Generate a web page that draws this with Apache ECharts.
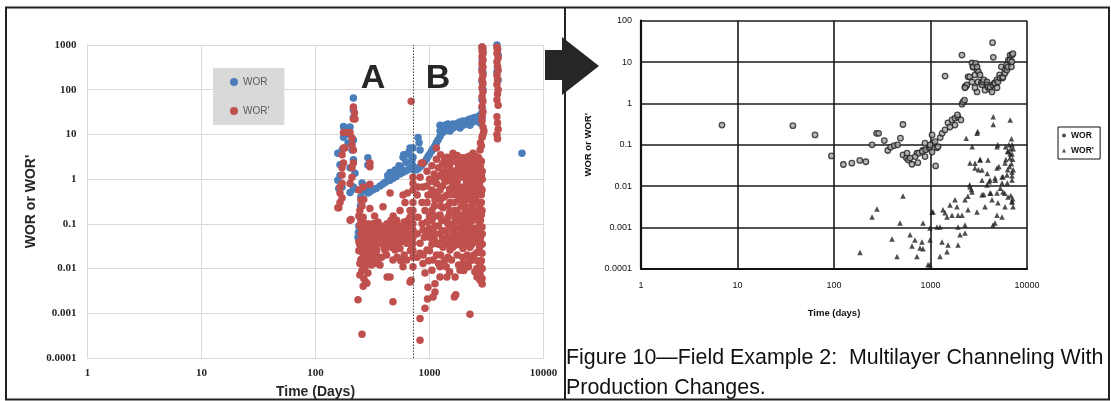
<!DOCTYPE html>
<html><head><meta charset="utf-8">
<script src="https://cdn.jsdelivr.net/npm/echarts@6/dist/echarts.min.js"></script>
<style>html,body{margin:0;padding:0;background:#fff}#c{width:1111px;height:401px}</style>
</head><body><div id="c"></div>
<script>
// ---------- tick labels ----------
const xTickLabels = ['1', '10', '100', '1000', '10000'];
const yTickLabelsLeft = ['0.0001', '0.001', '0.01', '0.1', '1', '10', '100', '1000'];
const yTickLabelsRight = ['0.0001', '0.001', '0.01', '0.1', '1', '10', '100'];

// ---------- left chart: [time (days), value] ----------
const leftWOR = [
  [181,13.9],[201,14.6],[171,4.5],[164,2.1],[171,0.67],[215,7.5],[215,2.7],[201,0.5],[222,1.35],[215,35],[215,24],[215,65],
  [157,3.8],[176,8.7],[193,6.4],[157,0.95],[215,0.67],[209,4.5],[164,1.2],[186,10],[176,15],[201,1.8],[222,0.6],[160,0.62],
  [288,3.0],[288,2.07],
  [256,0.82],[250,0.4],[248,0.25],[245,0.14],[240,0.09],[238,0.065],[236,0.05],[265,0.72],[275,0.6],[262,0.55],
  [288,0.49],[300,0.52],[320,0.58],[340,0.62],[368,0.7],[390,0.78],[410,0.85],[430,0.92],[451,0.95],[480,1.05],[510,1.15],
  [551,1.3],[580,1.4],[610,1.5],[640,1.6],[675,1.75],[700,1.9],[716,2.0],
  [430,1.2],[451,1.4],[470,1.4],[500,1.6],[540,2.0],[586,3.1],[594,3.5],[630,3.5],[660,4.0],[675,5.0],[716,5.0],[716,3.1],
  [700,2.6],[560,1.8],[620,2.4],
  [730,1.6],[760,1.6],[794,1.7],[826,1.9],[860,2.1],[900,2.4],[940,2.8],[970,3.2],[1000,3.6],[1040,4.2],[1074,4.8],[1117,5.6],
  [1150,6.5],[1188,7.5],[794,8.5],[810,6.5],[826,4.5],
  [1236,9],[1236,12],[1236,16],[1290,10.8],[1313,13],[1367,12],[1367,16],[1452,13],[1452,17],[1513,12],[1513,16],[1607,14],
  [1607,17],[1675,15],[1779,15],[1779,18],[1852,14],[1852,19],[1968,16],[1968,20],[2049,17],[2177,18],[2177,21],[2265,16],
  [2265,22],[2408,19],[2408,23],[2506,20],[2506,24],[2662,21],[2662,25],[2775,18],[2775,27],[2890,24],[2890,30],
  [2890,900],[2946,700],[2900,460],[2890,300],[2950,235],[2890,150],[2950,100],[2890,60],[2890,40],
  [3905,1000],[3950,800],[4000,600],[3950,320],[4000,165],[3905,250],
  [6470,3.8]
];
const leftWORp = [
  [215,41],[220,30],[215,22],[176,11],[201,11],[209,8.3],[209,5.8],[215,4.5],[176,5],[171,3.5],[176,2.3],[215,2.3],[209,1.8],
  [171,1.24],[209,1.1],[171,0.8],[201,0.8],[164,0.49],[171,0.38],[164,0.3],[160,0.23],[205,0.125],[157,0.23],[181,5],[193,11],
  [222,22],[171,1.8],[164,0.67],[201,0.12],[240,0.57],[250,0.34],
  [300,2.3],[300,1.9],
  [262,0.67],[300,0.77],[451,0.49],[300,0.22],[551,0.2],[586,0.44],[353,0.11],[425,0.1],[478,0.085],[515,0.073],[586,0.073],
  [630,0.1],[675,0.14],[380,0.06],[333,0.043],[368,0.037],[433,0.037],[465,0.05],[529,0.048],[630,0.05],[407,0.026],[498,0.026],
  [551,0.028],[300,0.03],[272,0.018],[310,0.0155],[345,0.013],[288,0.008],[245,0.0072],[282,0.0047],[262,0.004],[368,0.012],
  [425,0.0065],[451,0.0065],[675,0.005],[478,0.0155],[630,0.0155],[586,0.011],[262,0.14],[256,0.073],[272,0.05],[245,0.034],
  [245,0.013],[640,0.49],[610,0.3],[675,0.2],[630,0.037],[700,0.03],[391,0.24],[310,0.073],[288,0.1],[345,0.026],[451,0.073],
  [515,0.12],
  [245,0.09],[250,0.06],[256,0.045],[262,0.03],[272,0.025],[280,0.02],[256,0.12],[265,0.1],[280,0.08],[290,0.06],[300,0.05],
  [288,0.035],[260,0.022],[250,0.016],[272,0.011],[240,0.15],[245,0.2],[256,0.25],[265,0.35],[320,0.05],[330,0.03],[340,0.02],
  [310,0.025],[350,0.06],[360,0.08],[320,0.1],[330,0.15],[380,0.09],[400,0.05],[420,0.04],[440,0.06],[460,0.12],[480,0.15],
  [500,0.1],[520,0.06],[560,0.04],[600,0.06],[650,0.08],[700,0.06],[700,0.1],[680,0.025],[600,0.02],[560,0.015],[520,0.018],
  [460,0.03],[420,0.02],[380,0.018],
  [250,0.11],[262,0.085],[275,0.065],[290,0.045],[305,0.04],[320,0.035],[340,0.045],[360,0.05],[380,0.04],[400,0.03],[430,0.045],
  [460,0.06],[490,0.04],[520,0.035],[560,0.06],[600,0.045],[640,0.065],[680,0.04],[250,0.028],[265,0.04],[280,0.013],[295,0.02],
  [310,0.012],[330,0.018],[350,0.015],[240,0.025],[255,0.009],[265,0.006],[275,0.005],[240,0.04],[300,0.09],[330,0.07],[350,0.09],
  [400,0.08],[430,0.07],[560,0.09],[600,0.11],[650,0.12],
  [236,0.002],[256,0.00034],[478,0.0018],[690,0.0055],[690,55],[826,0.00076],[826,0.00025],[913,0.0013],[960,0.0021],
  [1074,0.0023],[1117,0.003],[1700,0.0026],[1650,0.0023],[2265,0.00095],[2775,0.0055],
  [716,1.1],[716,0.8],[716,0.57],[716,0.3],[716,0.2],[716,0.14],[716,0.1],[716,0.073],[716,0.05],[716,0.037],[716,0.025],
  [716,0.018],[716,0.011],
  [877,2.3],[826,1.1],[877,0.67],[970,0.44],[860,0.3],[1050,0.2],[794,0.14],[950,0.11],[1117,0.09],[877,0.073],[1000,0.05],
  [826,0.037],[1150,0.037],[950,0.026],[780,0.018],[1074,0.0155],[877,0.013],[1236,0.011],[1050,0.0092],[913,0.008],
  [1236,0.0065],[1420,0.0065],[970,0.0038],[1117,0.0046],[1675,0.0065],[1852,0.0092],[2130,0.013],[2408,0.0155],[2610,0.0065],
  [2890,0.006],[2775,0.0078],
  [1313,1.4],[1513,0.95],[1740,1.6],[1968,1.1],[2265,1.9],[2610,2.3],[2775,1.1],[1236,0.57],[1420,0.44],[1607,0.49],[1852,0.67],
  [2130,0.57],[2408,0.8],[2890,0.57],[1313,0.23],[1513,0.3],[1740,0.2],[1968,0.3],[2265,0.23],[2610,0.3],[2890,0.2],[1280,0.12],
  [1452,0.1],[1675,0.14],[1920,0.11],[2177,0.1],[2506,0.135],[2890,0.085],[1236,0.06],[1420,0.05],[1607,0.065],[1852,0.056],
  [2130,0.048],[2408,0.06],[2775,0.043],[1313,0.03],[1513,0.026],[1740,0.034],[1968,0.028],[2265,0.03],[2610,0.023],[2890,0.022],
  [1560,0.0155],[1968,0.013],[2775,0.013],
  [794,0.67],[780,0.44],[913,0.2],[1050,0.57],[1150,0.8],[1117,0.34],[860,0.1],[1236,0.157],[780,0.06],[826,0.022],[1074,0.073],
  [1150,5],[1420,3.1],[1607,3.8],[1852,2.7],[2130,3.1],[2408,3.8],[2775,4.5],[2890,8.7],[2946,14.5],[850,2.3],
  [1000,1.0],[1100,1.3],[1200,1.8],[1300,2.2],[1400,1.8],[1500,2.0],[1600,1.5],[1700,1.2],[1800,2.0],[1900,2.5],[2000,1.8],
  [2100,1.4],[2200,2.8],[2300,1.2],[2400,1.5],[2500,2.0],[2600,1.6],[2700,3.0],[2800,2.0],[2900,1.5],[1000,0.15],[1100,0.25],
  [1200,0.4],[1300,0.7],[1400,0.9],[1500,0.6],[1600,0.8],[1700,0.45],[1800,0.35],[1900,0.25],[2000,0.4],[2100,0.8],[2200,0.5],
  [2300,0.4],[2400,0.3],[2500,0.6],[2600,0.9],[2700,0.5],[2800,0.3],[2900,1.0],[1000,0.08],[1100,0.06],[1200,0.09],[1300,0.045],
  [1400,0.07],[1500,0.18],[1600,0.1],[1700,0.08],[1800,0.16],[1900,0.07],[2000,0.15],[2100,0.09],[2200,0.07],[2300,0.18],
  [2400,0.12],[2500,0.08],[2600,0.05],[2700,0.18],[2800,0.12],[2900,0.035],[950,0.06],[1050,0.035],[1150,0.02],[1250,0.02],
  [1350,0.015],[1450,0.018],[1550,0.04],[1650,0.045],[1750,0.02],[1850,0.035],[1950,0.018],[2050,0.04],[2150,0.02],[2250,0.015],
  [2350,0.035],[2450,0.02],[2550,0.04],[2650,0.015],[2750,0.03],[2850,0.015],[2900,0.01],[2850,0.3],[2850,2.5],[2850,5.5],
  [2800,6.5],
  [950,1.5],[1050,2.0],[1150,2.8],[1250,3.5],[1350,2.6],[1450,2.3],[1550,3.0],[1650,2.5],[1750,3.4],[1850,1.8],[1950,3.0],
  [2050,2.2],[2150,1.6],[2250,3.3],[2350,2.6],[2450,2.0],[2550,3.2],[2650,1.3],[2750,2.6],[2850,1.2],
  [950,0.7],[1050,0.9],[1150,1.1],[1250,1.2],[1350,1.0],[1450,1.3],[1550,1.1],[1650,0.7],[1750,0.9],[1850,1.3],[1950,0.6],
  [2050,1.2],[2150,0.7],[2250,1.0],[2350,0.8],[2450,1.1],[2550,1.3],[2650,0.7],[2750,0.8],[2850,0.6],
  [950,0.3],[1050,0.45],[1150,0.5],[1250,0.35],[1350,0.4],[1450,0.25],[1550,0.45],[1650,0.3],[1750,0.55],[1850,0.4],[1950,0.45],
  [2050,0.25],[2150,0.35],[2250,0.6],[2350,0.25],[2450,0.45],[2550,0.4],[2650,0.55],[2750,0.25],[2850,0.45],
  [1050,0.12],[1150,0.15],[1250,0.25],[1350,0.12],[1450,0.14],[1550,0.09],[1650,0.2],[1750,0.12],[1850,0.09],[1950,0.13],
  [2050,0.2],[2150,0.14],[2250,0.09],[2350,0.12],[2450,0.2],[2550,0.16],[2650,0.12],[2750,0.09],[2850,0.16],
  [900,0.05],[1000,0.025],[1100,0.045],[1200,0.035],[1300,0.07],[1400,0.035],[1500,0.05],[1600,0.03],[1700,0.055],[1800,0.05],
  [1900,0.045],[2000,0.06],[2100,0.035],[2200,0.045],[2300,0.06],[2400,0.04],[2500,0.05],[2600,0.07],[2700,0.06],[2800,0.05],
  [2900,0.06],[880,0.02],[980,0.015],[1200,0.013],[1400,0.011],[1800,0.012],[2200,0.011],[2600,0.01],[2900,0.0045],[2500,0.0085],
  [2000,0.009],[1500,0.0085],
  [2890,900],[2946,850],[2890,750],[2946,650],[2890,550],[2946,460],[2890,380],[2946,320],[2890,260],[2946,210],[2890,170],
  [2946,140],[2890,110],[2946,90],[2890,70],[2946,55],[2890,42],[2946,32],[2890,25],[2890,20],[3000,12],[2946,10],
  [3905,900],[3950,800],[3905,650],[4000,520],[3905,420],[3950,330],[4000,270],[3905,210],[3950,170],[3905,130],[4000,100],
  [3950,80],[3905,60],[4000,45],[3905,25],[3950,18],[4000,13],[3905,10],[3950,8]
];
const boundaryDay = 716;

// ---------- right chart (scanned figure): [time (days), value] ----------
const rightWOR = [
  [6.9,0.30],[37.5,0.29],[63.6,0.174],[94,0.054],[125,0.0335],[153,0.036],[185,0.042],[214,0.039],[248,0.1],[276,0.19],
  [290,0.19],[332,0.127],[361,0.073],[386,0.088],[420,0.096],[457,0.1],[488,0.145],[518,0.31],
  [519,0.057],[571,0.063],[563,0.048],[589,0.043],[614,0.048],[643,0.034],[724,0.063],[740,0.037],[695,0.052],[755,0.063],
  [836,0.074],[821,0.069],[877,0.052],[893,0.076],[971,0.083],[988,0.09],[1037,0.067],[1038,0.174],[1056,0.11],[1130,0.031],
  [1167,0.085],[1198,0.09],[877,0.11],[990,0.1],[1113,0.12],[1260,0.15],[1320,0.19],[1413,0.23],[1516,0.34],[1592,0.27],
  [1670,0.4],[1794,0.44],[1794,0.3],[1928,0.47],[1901,0.53],[2066,0.4],[2120,0.96],[2170,1.09],[2250,1.2],[1416,4.6],[2118,14.8],
  [2275,2.5],[2345,2.65],[2450,4.4],[2380,2.8],[2548,4.4],[2690,9.5],[2750,7.6],[2771,7.7],[2890,4.9],[2938,9.3],[3034,6.5],
  [3035,7.6],[3035,1.9],[3100,3.3],[3141,5.8],[3258,4.9],[3363,3.1],[3417,2.8],[3500,3.3],[3565,3.7],[3670,2.1],[3850,3.3],
  [3874,2.8],[3944,2.5],[4110,2.2],[4138,2.5],[4338,1.9],[4396,29.5],[4446,2.8],[4470,13],[4585,3.1],[4660,3.1],[4860,3.7],
  [4890,2.4],[5000,3.3],[5200,4.9],[5248,4.1],[5420,7.7],[5560,4.1],[5636,4.3],[5890,6.4],[5916,5.4],[6140,8.5],[6205,6.4],
  [6410,11.2],[6356,7.6],[6668,11.2],[6680,14.8],[6900,7.7],[6970,10.2],[6995,14.8],[7150,16],[2692,3.3],[2890,2.4],[2278,2.4]
];
const rightWORp = [
  [2566,0.0366],[3258,0.043],[3944,0.043],[2890,0.0277],[3417,0.0248],[4890,0.0277],[5916,0.0366],[6668,0.048],[6995,0.0222],
  [6205,0.0187],[5508,0.0168],[4660,0.0159],[4138,0.0142],[3850,0.0107],[5508,0.012],[6995,0.0142],[2566,0.0096],[2692,0.0073],
  [3417,0.0062],[4138,0.0069],[4890,0.0069],[5636,0.0073],[6356,0.0055],[6995,0.0042],[4338,0.0047],[5000,0.004],[5916,0.0032],
  [7161,0.0032],[3670,0.0032],[3034,0.0024],[2448,0.0027],[2278,0.0047],[1794,0.0047],[1592,0.0035],[1883,0.0032],[1670,0.002],
  [1929,0.002],[2120,0.002],[1413,0.0023],[1483,0.0018],[1348,0.0027],[1062,0.0024],[4890,0.002],[5508,0.0018],[4660,0.0013],
  [4446,0.00116],[2278,0.00116],[1929,0.00104],[836,0.0013],[988,0.00098],[1167,0.00104],[1254,0.00104],[2023,0.00067],
  [2278,0.00074],[1315,0.00045],[1518,0.00038],[1929,0.00038],[988,0.0005],[817,0.00045],[778,0.00032],[1254,0.0002],
  [1483,0.00026],[988,0.000126],
  [519,0.0058],[279,0.0028],[248,0.0018],[483,0.0013],[399,0.00053],[186,0.00025],[450,0.0002],[614,0.00067],[690,0.0005],
  [643,0.00036],[836,0.00031],[724,0.0002],[1037,0.0024],[942,0.000126],
  [2345,0.145],[2440,0.0057],[2548,0.0108],[2656,0.0083],[2705,0.09],[2890,0.036],[3090,0.21],[3034,0.19],[3141,0.025],
  [3275,0.044],[3417,0.014],[3565,0.0063],[3874,0.0203],[4043,0.0128],[4217,0.0068],[4470,0.48],[4470,0.31],[4700,0.014],
  [4985,0.1],[4890,0.09],[5115,0.03],[5290,0.009],[5650,0.017],[5890,0.0068],[6040,0.044],[6250,0.012],[6410,0.068],
  [6700,0.4],[6900,0.14],[6500,0.1],[6800,0.08],[7000,0.06],[7100,0.045],[6900,0.035],[7200,0.025],[7000,0.018],[6600,0.03],
  [6300,0.025],[7100,0.005],[7000,0.0042],[6800,0.006],[6000,0.09],[6300,0.07],[6700,0.06],[7000,0.1],[7200,0.08]
];

const chart = echarts.init(document.getElementById('c'), null, { renderer: 'canvas' });
const dec = v => Math.round(Math.log10(v));
const fx = v => xTickLabels[dec(v)];
const fyL = v => yTickLabelsLeft[dec(v) + 4];
const fyR = v => yTickLabelsRight[dec(v) + 4];

const lightAxis = { lineStyle: { color: '#d9d9d9', width: 1 } };
const leftLabel = { color: '#262626', fontFamily: 'Liberation Serif', fontWeight: 'bold', fontSize: 11 };
const leftName = { color: '#262626', fontFamily: 'Liberation Sans', fontWeight: 'bold', fontSize: 14 };
const darkLine = { lineStyle: { color: '#1a1a1a', width: 1.6 } };
const rightLabel = { color: '#111', fontFamily: 'Liberation Sans', fontSize: 9 };
const rightName = { color: '#111', fontFamily: 'Liberation Sans', fontWeight: 'bold', fontSize: 9.5 };

chart.setOption({
  animation: false,
  backgroundColor: '#ffffff',
  grid: [
    { left: 87.5, top: 45, width: 456, height: 313, outerBoundsMode: 'none' },
    { left: 641, top: 20.7, width: 386, height: 248.3, outerBoundsMode: 'none' }
  ],
  xAxis: [
    { type: 'log', gridIndex: 0, min: 1, max: 10000, splitNumber: 4, logBase: 10,
      name: 'Time (Days)', nameLocation: 'middle', nameGap: 27, nameTextStyle: leftName,
      axisLine: lightAxis, axisTick: { show: false }, splitLine: { show: true, ...lightAxis },
      axisLabel: { formatter: fx, margin: 10, ...leftLabel } },
    { type: 'log', gridIndex: 1, min: 1, max: 10000, splitNumber: 4, logBase: 10,
      name: 'Time (days)', nameLocation: 'middle', nameGap: 39, nameTextStyle: rightName,
      axisLine: { lineStyle: { color: '#111', width: 2.2 } }, axisTick: { show: false },
      splitLine: { show: true, ...darkLine },
      axisLabel: { formatter: fx, margin: 12, ...rightLabel } }
  ],
  yAxis: [
    { type: 'log', gridIndex: 0, min: 0.0001, max: 1000, splitNumber: 7, logBase: 10,
      name: "WOR or WOR'", nameLocation: 'middle', nameGap: 49, nameTextStyle: leftName,
      axisLine: { show: true, ...lightAxis }, axisTick: { show: false }, splitLine: { show: true, ...lightAxis },
      axisLabel: { formatter: fyL, margin: 11, ...leftLabel } },
    { type: 'log', gridIndex: 1, min: 0.0001, max: 100, splitNumber: 6, logBase: 10,
      name: "WOR or WOR'", nameLocation: 'middle', nameGap: 48, nameTextStyle: rightName,
      axisLine: { show: true, lineStyle: { color: '#111', width: 2.2 } }, axisTick: { show: false },
      splitLine: { show: true, ...darkLine },
      axisLabel: { formatter: fyR, margin: 9, ...rightLabel } }
  ],
  legend: [
    { left: 213, top: 68, orient: 'vertical', backgroundColor: '#d9d9d9', borderRadius: 0,
      padding: [8, 15, 8, 17], itemGap: 17, itemWidth: 8, itemHeight: 8,
      textStyle: { color: '#595959', fontSize: 10, fontFamily: 'Liberation Sans', lineHeight: 12 },
      data: [{ name: 'WOR', icon: 'circle' }, { name: "WOR'", icon: 'circle' }] },
    { left: 1058, top: 127, orient: 'vertical', backgroundColor: '#fff', borderColor: '#111', borderWidth: 1,
      padding: [3, 4, 3, 4], itemGap: 4, itemWidth: 4, itemHeight: 4,
      textStyle: { color: '#111', fontSize: 8.5, fontWeight: 'bold', fontFamily: 'Liberation Sans', lineHeight: 11 },
      data: [{ name: 'WOR ', icon: 'circle', itemStyle: { color: '#222', borderWidth: 0 } },
             { name: "WOR' ", icon: 'triangle', itemStyle: { color: '#222' } }] }
  ],
  series: [
    { name: 'WOR', type: 'scatter', xAxisIndex: 0, yAxisIndex: 0, data: leftWOR,
      symbol: 'circle', symbolSize: 7.5, itemStyle: { color: '#4a7ebb', opacity: 1 } },
    { name: "WOR'", type: 'scatter', xAxisIndex: 0, yAxisIndex: 0, data: leftWORp,
      symbol: 'circle', symbolSize: 7.5, itemStyle: { color: '#c0504d', opacity: 1 },
      markLine: { silent: true, symbol: ['none', 'none'], label: { show: false },
        lineStyle: { color: '#444', type: [1.5, 1.5], width: 1 },
        data: [{ xAxis: boundaryDay }] } },
    { name: 'WOR ', type: 'scatter', xAxisIndex: 1, yAxisIndex: 1, data: rightWOR,
      symbol: 'circle', symbolSize: 5.5, itemStyle: { color: '#a8a8a8', borderColor: '#222', borderWidth: 1.3 } },
    { name: "WOR' ", type: 'scatter', xAxisIndex: 1, yAxisIndex: 1, data: rightWORp,
      symbol: 'triangle', symbolSize: 5.5, itemStyle: { color: '#222' } }
  ],
  graphic: [
    { type: 'rect', shape: { x: 6, y: 7.5, width: 1103, height: 392 }, style: { fill: 'none', stroke: '#222', lineWidth: 2 }, z: 100 },
    { type: 'line', shape: { x1: 565, y1: 7, x2: 565, y2: 400 }, style: { stroke: '#222', lineWidth: 2 }, z: 100 },
    { type: 'polygon', shape: { points: [[545,50],[562,50],[562,37],[599,66],[562,95],[562,80],[545,80]] },
      style: { fill: '#262626' }, z: 101 },
    { type: 'text', x: 373, y: 79, style: { text: 'A', fill: '#262626', font: 'bold 34px "Liberation Sans"', align: 'center', verticalAlign: 'middle' }, z: 50 },
    { type: 'text', x: 438, y: 79, style: { text: 'B', fill: '#262626', font: 'bold 34px "Liberation Sans"', align: 'center', verticalAlign: 'middle' }, z: 50 },
    { type: 'text', x: 566, y: 358, style: { text: 'Figure 10\u2014Field Example 2:  Multilayer Channeling With', fill: '#111', font: '21.4px "Liberation Sans"', align: 'left', verticalAlign: 'middle' }, z: 50 },
    { type: 'text', x: 566, y: 388, style: { text: 'Production Changes.', fill: '#111', font: '21.4px "Liberation Sans"', align: 'left', verticalAlign: 'middle' }, z: 50 }
  ]
});
</script></body></html>
